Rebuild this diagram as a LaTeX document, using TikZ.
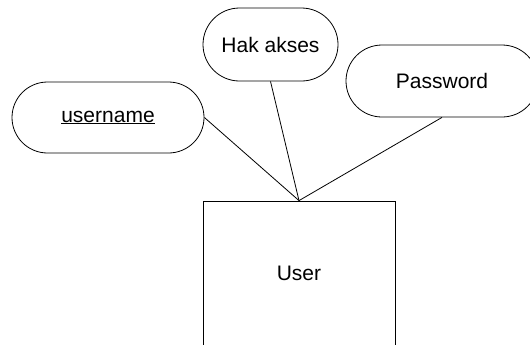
\documentclass[tikz,border=0pt]{standalone}
\usepackage{fontspec}
\setmainfont{Liberation Sans}
\begin{document}
\begin{tikzpicture}[x=1bp,y=-1bp,
  attr/.style={draw=black, line width=0.8bp, rounded corners=#1, inner sep=0pt,
    font=\fontsize{21bp}{25bp}\selectfont},
  entity/.style={draw=black, line width=0.8bp, inner sep=0pt,
    font=\fontsize{21bp}{25bp}\selectfont},
  link/.style={draw=black, line width=0.8bp}]
\useasboundingbox (0,0) rectangle (530,344);
\clip (0,0) rectangle (530,344);
\node[attr=35.5bp, minimum width=192bp, minimum height=71bp] (username) at (108,117.5) {\underline{username}};
\node[attr=36.5bp, minimum width=135bp, minimum height=73bp] (hak) at (270.5,44.5) {Hak akses};
\node[attr=36bp, minimum width=192bp, minimum height=72bp] (password) at (442,81) {Password};
\node[entity, minimum width=192bp, minimum height=144bp] (user) at (299,273) {User};
\draw[link] (username.east) -- (user.north);
\draw[link] (hak.south) -- (user.north);
\draw[link] (password.south) -- (user.north);
\end{tikzpicture}
\end{document}
